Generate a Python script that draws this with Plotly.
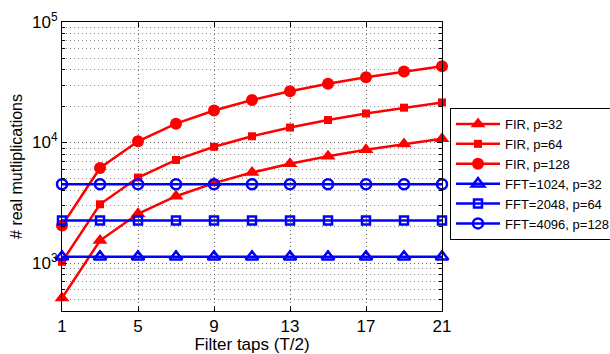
import plotly.graph_objects as go

taps = [1, 3, 5, 7, 9, 11, 13, 15, 17, 19, 21]
fir_p32 = [512, 1536, 2560, 3584, 4608, 5632, 6656, 7680, 8704, 9728, 10752]
fir_p64 = [1024, 3072, 5120, 7168, 9216, 11264, 13312, 15360, 17408, 19456, 21504]
fir_p128 = [2048, 6144, 10240, 14336, 18432, 22528, 26624, 30720, 34816, 38912, 43008]
fft_1024 = [1126] * 11
fft_2048 = [2253] * 11
fft_4096 = [4506] * 11

x_ticks = [1, 5, 9, 13, 17, 21]
y_ticks = [1e3, 1e4, 1e5]
y_tick_text = ["10<sup>3</sup>", "10<sup>4</sup>", "10<sup>5</sup>"]
y_minor = [m * 10 ** e for e in (2, 3, 4) for m in range(2, 10)]

RED = "#ff0000"
BLUE = "#0000ff"

fig = go.Figure()

series = [
    ("FIR, p=32", fir_p32, RED, dict(symbol="triangle-up", size=13, color=RED)),
    ("FIR, p=64", fir_p64, RED, dict(symbol="square", size=8, color=RED)),
    ("FIR, p=128", fir_p128, RED, dict(symbol="circle", size=12, color=RED)),
    ("FFT=1024, p=32", fft_1024, BLUE, dict(symbol="triangle-up-open", size=11, color=BLUE, line=dict(width=2.5, color=BLUE))),
    ("FFT=2048, p=64", fft_2048, BLUE, dict(symbol="square-open", size=8, color=BLUE, line=dict(width=2.5, color=BLUE))),
    ("FFT=4096, p=128", fft_4096, BLUE, dict(symbol="circle-open", size=10, color=BLUE, line=dict(width=2.5, color=BLUE))),
]
for i, (name, ys, col, mk) in enumerate(series):
    fig.add_trace(go.Scatter(x=taps, y=ys, name=name, mode="lines+markers",
                             line=dict(color=col, width=2.5), marker=mk, cliponaxis=False))

FONT = "Liberation Sans, Arial, sans-serif"
axis_font = dict(family=FONT, size=17, color="black")
ytitle_font = dict(family=FONT, size=16, color="black")
GRID = dict(showgrid=True, gridcolor="#666666", gridwidth=1, griddash="1px,3px")

fig.update_layout(
    width=610, height=354,
    margin=dict(l=62, r=168, t=22, b=43, autoexpand=False),
    paper_bgcolor="white", plot_bgcolor="white",
    font=dict(family=FONT, size=12, color="black"),
    showlegend=True,
    legend=dict(xref="container", yref="container", x=450 / 610, y=1 - 108 / 354,
                xanchor="left", yanchor="top",
                bordercolor="black", borderwidth=1, bgcolor="white",
                font=dict(family=FONT, size=13, color="black"), itemwidth=44),
)
fig.update_xaxes(
    range=[1, 21], tickvals=x_ticks, ticktext=[str(v) for v in x_ticks],
    showline=True, linecolor="black", linewidth=1, mirror="allticks",
    ticks="inside", ticklen=5, tickcolor="black",
    zeroline=False, tickfont=axis_font, **GRID,
    title=dict(text="Filter taps (T/2)", font=axis_font, standoff=2),
)
fig.update_yaxes(
    type="log", range=[2.602, 5], tickvals=y_ticks, ticktext=y_tick_text,
    showline=True, linecolor="black", linewidth=1, mirror="allticks",
    ticks="inside", ticklen=5, tickcolor="black",
    minor=dict(tickvals=y_minor, ticks="inside", ticklen=3, tickcolor="black",
               showgrid=True, gridcolor="#888888", gridwidth=1, griddash="1px,3px"),
    zeroline=False, tickfont=axis_font, **GRID,
    title=dict(text="# real mutliplications", font=ytitle_font, standoff=5),
)

fig.write_html("out.html")
